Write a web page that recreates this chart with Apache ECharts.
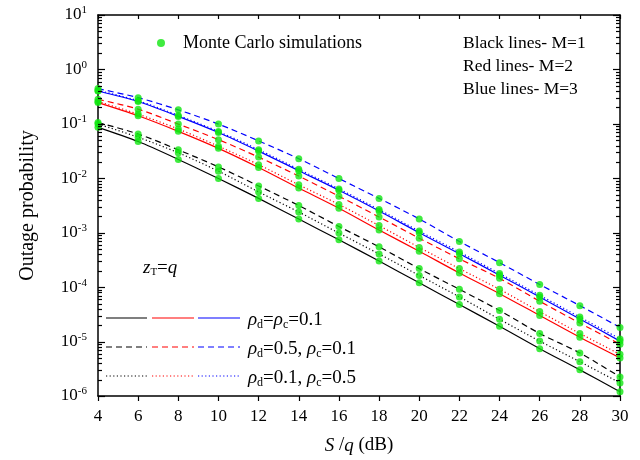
<!DOCTYPE html>
<html><head><meta charset="utf-8">
<script src="https://cdn.jsdelivr.net/npm/echarts@6/dist/echarts.min.js"></script>
<style>html,body{margin:0;padding:0;background:#fff}#c{width:640px;height:460px}</style>
</head><body><div id="c"></div>
<script>
const snr = [4,6,8,10,12,14,16,18,20,22,24,26,28,30];
// M=1 (black)
const m1Rho01  = [0.0863,0.0473,0.0222,0.00989,0.00427,0.00178,7.41e-4,3.02e-4,1.20e-4,4.79e-5,1.91e-5,7.41e-6,3.02e-6,1.20e-6];
const m1RhoD05 = [0.106,0.0652,0.0333,0.0162,0.00724,0.00316,0.00130,5.50e-4,2.19e-4,9.12e-5,3.72e-5,1.41e-5,6.17e-6,2.24e-6];
const m1RhoC05 = [0.0991,0.0568,0.0294,0.0135,0.00562,0.00240,9.84e-4,4.07e-4,1.64e-4,6.61e-5,2.57e-5,1.02e-5,4.27e-6,1.74e-6];
// M=2 (red)
const m2Rho01  = [0.246,0.141,0.0729,0.0355,0.0158,0.00661,0.00282,0.00112,4.57e-4,1.82e-4,7.59e-5,3.02e-5,1.20e-5,5.01e-6];
const m2RhoD05 = [0.283,0.186,0.0991,0.0513,0.0245,0.0110,0.00468,0.00195,7.94e-4,3.31e-4,1.45e-4,5.50e-5,2.19e-5,8.91e-6];
const m2RhoC05 = [0.257,0.151,0.0804,0.0389,0.0178,0.00759,0.00331,0.00135,5.37e-4,2.19e-4,9.12e-5,3.55e-5,1.41e-5,5.82e-6];
// M=3 (blue)
const m3Rho01  = [0.401,0.257,0.137,0.0692,0.0316,0.0138,0.00603,0.00251,0.00100,4.12e-4,1.66e-4,6.61e-5,2.60e-5,1.02e-5];
const m3RhoD05 = [0.444,0.303,0.181,0.0991,0.0486,0.0229,0.00989,0.00427,0.00179,6.92e-4,2.82e-4,1.12e-4,4.57e-5,1.82e-5];
const m3RhoC05 = [0.412,0.266,0.143,0.0724,0.0335,0.0146,0.00638,0.00266,0.00107,4.42e-4,1.78e-4,7.08e-5,2.82e-5,1.12e-5];

const yMajor = [1e-6,1e-5,1e-4,1e-3,1e-2,1e-1,1,10];
const yMinor = [];
for (let e = -6; e < 1; e++) for (let k = 2; k <= 9; k++) yMinor.push(+(k * Math.pow(10, e)).toPrecision(3));

const FONT = 'Liberation Serif';
const BLACK = '#000000', RED = '#ff0000', BLUE = '#0000ff', GREEN = '#10e610';
const DASH = [6, 4], DOT = [1.2, 2.4];
const X_MIN = 4, X_MAX = 30;

const curves = [
  {name:'M=1, ρd=ρc=0.1', data:m1Rho01, color:BLACK, type:'solid'},
  {name:'M=1, ρd=0.5, ρc=0.1', data:m1RhoD05, color:BLACK, type:DASH},
  {name:'M=1, ρd=0.1, ρc=0.5', data:m1RhoC05, color:BLACK, type:DOT},
  {name:'M=2, ρd=ρc=0.1', data:m2Rho01, color:RED, type:'solid'},
  {name:'M=2, ρd=0.5, ρc=0.1', data:m2RhoD05, color:RED, type:DASH},
  {name:'M=2, ρd=0.1, ρc=0.5', data:m2RhoC05, color:RED, type:DOT},
  {name:'M=3, ρd=ρc=0.1', data:m3Rho01, color:BLUE, type:'solid'},
  {name:'M=3, ρd=0.5, ρc=0.1', data:m3RhoD05, color:BLUE, type:DASH},
  {name:'M=3, ρd=0.1, ρc=0.5', data:m3RhoC05, color:BLUE, type:DOT}
];

const series = curves.map(c => ({
  name: c.name, type: 'line', showSymbol: false, smooth: 0.3, z: 2,
  data: snr.map((x, i) => [x, c.data[i]]),
  lineStyle: {color: c.color, width: 1.2, type: c.type}
}));
const mc = [];
curves.forEach(c => snr.forEach((x, i) => mc.push([x, c.data[i]])));
series.push({
  name: 'Monte Carlo simulations', type: 'scatter', symbol: 'circle', symbolSize: 7, z: 5,
  itemStyle: {color: GREEN}, data: mc
});

const supLabel = v => '{b|10}{s|' + Math.round(Math.log10(v)) + '}';
const labelRich = {
  b: {fontFamily: FONT, fontSize: 17, color: BLACK},
  s: {fontFamily: FONT, fontSize: 11, color: BLACK, padding: [0, 0, 9, 0]}
};

const chart = echarts.init(document.getElementById('c'));
const textBase = {fontFamily: FONT, fill: BLACK};
const legendRows = [
  {y: 318, type: 'solid', text: '{i|ρ}{sub|d}{t|=}{i|ρ}{sub|c}{t|=0.1}'},
  {y: 347, type: DASH, text: '{i|ρ}{sub|d}{t|=0.5, }{i|ρ}{sub|c}{t|=0.1}'},
  {y: 376, type: DOT, text: '{i|ρ}{sub|d}{t|=0.1, }{i|ρ}{sub|c}{t|=0.5}'}
];
const segs = [[106, 147, BLACK], [152, 194, RED], [198, 240, BLUE]];
const richRho = {
  i: {fontFamily: FONT, fontSize: 19, fontStyle: 'italic', color: BLACK},
  t: {fontFamily: FONT, fontSize: 19, color: BLACK},
  sub: {fontFamily: FONT, fontSize: 12, color: BLACK, padding: [10, 0, 0, 0]}
};
const graphics = [];
legendRows.forEach(r => {
  segs.forEach(s => graphics.push({
    type: 'line', shape: {x1: s[0], y1: r.y, x2: s[1], y2: r.y},
    style: {stroke: s[2], lineWidth: 1.2, lineDash: r.type === 'solid' ? null : r.type}
  }));
  graphics.push({type: 'text', x: 248, y: r.y + 2, style: {text: r.text, rich: richRho, verticalAlign: 'middle', ...textBase}});
});
['Black lines- M=1', 'Red lines- M=2', 'Blue lines- M=3'].forEach((t, i) => graphics.push({
  type: 'text', x: 463, y: 43 + i * 23, style: {text: t, fontSize: 17.5, verticalAlign: 'middle', ...textBase}
}));
graphics.push({type: 'text', x: 143, y: 268, style: {
  text: '{i|z}{sub|T}{t|=}{i|q}', verticalAlign: 'middle',
  rich: {i: {fontFamily: FONT, fontSize: 19, fontStyle: 'italic', color: BLACK},
         t: {fontFamily: FONT, fontSize: 19, color: BLACK},
         sub: {fontFamily: FONT, fontSize: 11, color: BLACK, padding: [9, 0, 0, 0]}}, ...textBase}});

chart.setOption({
  animation: false,
  backgroundColor: '#ffffff',
  grid: {left: 98, right: 20, top: 15, bottom: 61, containLabel: false},
  legend: {
    data: ['Monte Carlo simulations'], left: 152, top: 29, icon: 'circle',
    itemWidth: 8, itemHeight: 8,
    textStyle: {fontFamily: FONT, fontSize: 18, color: BLACK, padding: [0, 0, 0, 13]}
  },
  xAxis: [
    {type: 'value', min: X_MIN, max: X_MAX, interval: 2, position: 'bottom',
     name: '{i|S}{n| /}{i|q}{n| (dB)}', nameLocation: 'middle', nameGap: 40,
     nameTextStyle: {rich: {i: {fontFamily: FONT, fontSize: 19, fontStyle: 'italic', color: BLACK},
                            n: {fontFamily: FONT, fontSize: 19, color: BLACK}}},
     axisLine: {onZero: false, lineStyle: {color: BLACK, width: 1.5}},
     axisTick: {inside: false, length: 5, lineStyle: {color: BLACK, width: 1.2}},
     axisLabel: {fontFamily: FONT, fontSize: 17, color: BLACK, margin: 12},
     splitLine: {show: false}},
    {type: 'value', min: X_MIN, max: X_MAX, interval: 2, position: 'top',
     axisLine: {onZero: false, lineStyle: {color: BLACK, width: 1.5}},
     axisTick: {inside: true, length: 4, lineStyle: {color: BLACK, width: 1.2}},
     axisLabel: {show: false}, splitLine: {show: false}}
  ],
  yAxis: [
    {type: 'log', logBase: 10, min: 1e-6, max: 10, position: 'left',
     name: 'Outage probability', nameLocation: 'middle', nameGap: 60,
     nameTextStyle: {fontFamily: FONT, fontSize: 20, color: BLACK},
     axisLine: {show: true, onZero: false, lineStyle: {color: BLACK, width: 1.5}},
     axisTick: {show: false},
     axisLabel: {customValues: yMajor, formatter: supLabel, rich: labelRich, margin: 11},
     splitLine: {show: false}},
    {type: 'log', logBase: 10, min: 1e-6, max: 10, position: 'right',
     axisLine: {show: true, onZero: false, lineStyle: {color: BLACK, width: 1.5}},
     axisTick: {show: false}, axisLabel: {show: false}, splitLine: {show: false}}
  ],
  graphic: graphics,
  series: series
});

// log-axis ticks (majors and 2..9 minors) on both frame sides, positioned through the axis scale
const xl = chart.convertToPixel({xAxisIndex: 0}, X_MIN);
const xr = chart.convertToPixel({xAxisIndex: 0}, X_MAX);
const tickEls = [];
const addTick = (v, len) => {
  const y = Math.round(chart.convertToPixel({yAxisIndex: 0}, v)) + 0.5;
  tickEls.push({type: 'line', z: 100, shape: {x1: xl, y1: y, x2: xl + len, y2: y}, style: {stroke: BLACK, lineWidth: 1.2}});
  tickEls.push({type: 'line', z: 100, shape: {x1: xr, y1: y, x2: xr - len, y2: y}, style: {stroke: BLACK, lineWidth: 1.2}});
};
yMajor.forEach(v => addTick(v, 7));
yMinor.forEach(v => addTick(v, 4));
chart.setOption({graphic: graphics.concat(tickEls)});
</script></body></html>
